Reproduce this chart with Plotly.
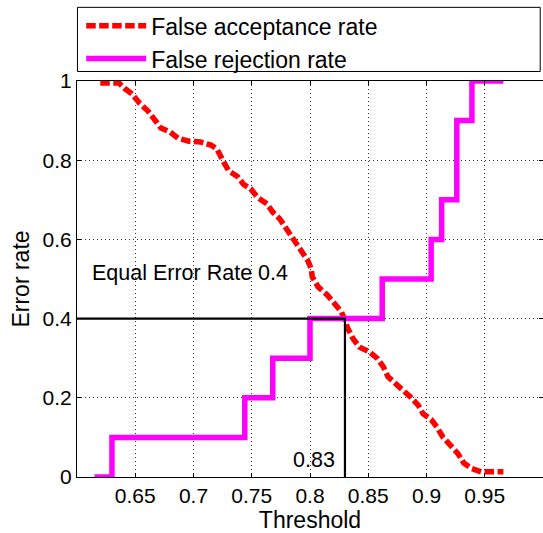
import plotly.graph_objects as go

# ---- data ----
far_threshold = [0.620, 0.636, 0.641, 0.647, 0.654, 0.661, 0.667, 0.672, 0.680, 0.687,
                 0.696, 0.706, 0.715, 0.720, 0.726, 0.730, 0.738, 0.743, 0.749, 0.755,
                 0.763, 0.768, 0.774, 0.780, 0.785, 0.791, 0.798, 0.801, 0.802, 0.807,
                 0.815, 0.821, 0.827, 0.8325, 0.837, 0.8425, 0.851, 0.858, 0.863, 0.867,
                 0.874, 0.880, 0.887, 0.893, 0.897, 0.904, 0.909, 0.914, 0.920, 0.927,
                 0.932, 0.939, 0.947, 0.966]
far_rate = [0.995, 0.995, 0.981, 0.968, 0.943, 0.924, 0.901, 0.881, 0.871, 0.855,
            0.848, 0.846, 0.838, 0.829, 0.795, 0.774, 0.758, 0.739, 0.728, 0.706,
            0.690, 0.669, 0.652, 0.627, 0.602, 0.577, 0.547, 0.526, 0.505, 0.480,
            0.459, 0.438, 0.417, 0.375, 0.349, 0.328, 0.316, 0.299, 0.278, 0.253,
            0.236, 0.219, 0.200, 0.181, 0.160, 0.145, 0.126, 0.101, 0.080, 0.059,
            0.035, 0.021, 0.013, 0.013]

frr_threshold = [0.615, 0.630, 0.744, 0.768, 0.800, 0.862, 0.904, 0.913, 0.926, 0.939, 0.966]
frr_rate = [0.0, 0.1, 0.2, 0.3, 0.4, 0.5, 0.6, 0.7, 0.9, 1.0, 1.0]

eer_threshold = 0.83
eer_value = 0.4

x_ticks = [0.65, 0.7, 0.75, 0.8, 0.85, 0.9, 0.95]
x_ticklabels = ["0.65", "0.7", "0.75", "0.8", "0.85", "0.9", "0.95"]
y_ticks = [0, 0.2, 0.4, 0.6, 0.8, 1]
y_ticklabels = ["0", "0.2", "0.4", "0.6", "0.8", "1"]

FONT = "Liberation Sans, Arial, Helvetica, sans-serif"

fig = go.Figure()
fig.add_trace(go.Scatter(
    x=far_threshold, y=far_rate, mode="lines", name="False acceptance rate",
    line=dict(color="#ff0000", width=5.5, dash="9.5px,3.5px"),
))
fig.add_trace(go.Scatter(
    x=frr_threshold, y=frr_rate, mode="lines", name="False rejection rate",
    line=dict(color="#ff00ff", width=5.5, shape="hv"),
))
fig.add_trace(go.Scatter(
    x=[0.6, eer_threshold, eer_threshold], y=[eer_value, eer_value, 0],
    mode="lines", showlegend=False, hoverinfo="skip",
    line=dict(color="black", width=2.2),
))

fig.add_annotation(x=0.611, y=0.514, xref="x", yref="y", xanchor="left", yanchor="middle",
                   text=f"Equal Error Rate {eer_value:g}", showarrow=False,
                   font=dict(family=FONT, size=21.5, color="black"))
fig.add_annotation(x=eer_threshold, y=0.044, xref="x", yref="y", xanchor="right", yanchor="middle",
                   xshift=-8, text=f"{eer_threshold:g}", showarrow=False,
                   font=dict(family=FONT, size=21.5, color="black"))

# legend box
fig.add_shape(type="rect", xref="paper", yref="paper", x0=0.001, x1=0.994, y0=1.024, y1=1.186,
              line=dict(color="black", width=1), fillcolor="white", layer="below")

axis_common = dict(
    showline=True, linecolor="black", linewidth=1, mirror="ticks",
    ticks="inside", ticklen=4, tickcolor="black",
    showgrid=True, gridcolor="#333333", gridwidth=1, griddash="1px,3px",
    zeroline=False, tickfont=dict(family=FONT, size=21, color="black"),
)

fig.update_layout(
    width=543, height=533,
    margin=dict(l=77, r=0, t=81, b=56, autoexpand=False),
    paper_bgcolor="white", plot_bgcolor="white",
    font=dict(family=FONT, color="black"),
    xaxis=dict(range=[0.6, 1.0], tickvals=x_ticks, ticktext=x_ticklabels,
               title=dict(text="Threshold", font=dict(family=FONT, size=23), standoff=4),
               **axis_common),
    yaxis=dict(range=[0, 1], tickvals=y_ticks, ticktext=y_ticklabels,
               title=dict(text="Error rate", font=dict(family=FONT, size=23), standoff=6),
               **axis_common),
    legend=dict(x=0.009, y=1.194, xanchor="left", yanchor="top",
                bgcolor="rgba(0,0,0,0)", borderwidth=0, itemwidth=60,
                font=dict(family=FONT, size=23, color="black"), tracegroupgap=0),
    showlegend=True,
)

fig.write_html("out.html")
